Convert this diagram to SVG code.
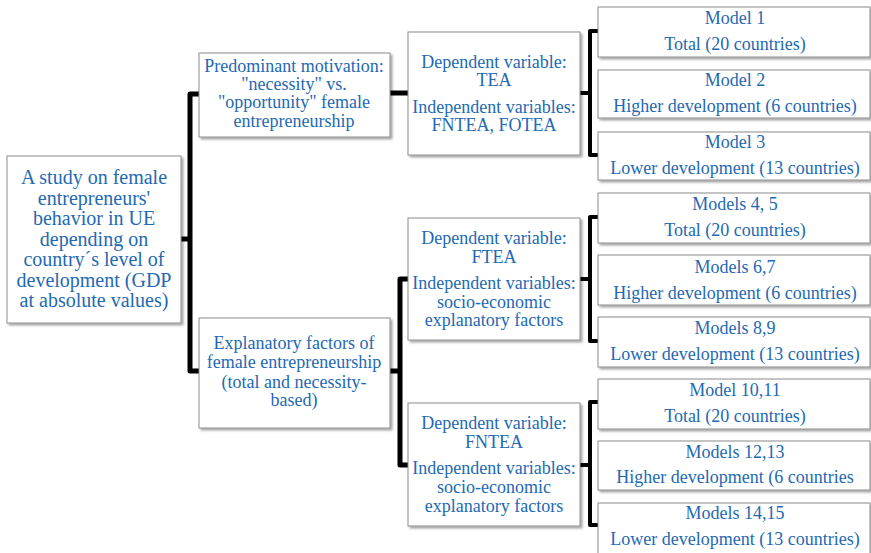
<svg xmlns="http://www.w3.org/2000/svg" width="871" height="553" viewBox="0 0 871 553">
<style>
.box{fill:#fff;stroke:#8c8c8c;stroke-width:1;filter:url(#sh)}
.t{font-family:"Liberation Serif","Times New Roman",serif;font-size:18px;fill:#2369b3;text-anchor:middle}
.big{font-size:20px}
.c{fill:none;stroke:#000;stroke-linejoin:round;stroke-linecap:butt}
.w5{stroke-width:5}
.w4{stroke-width:4}
</style>
<defs>
<filter id="sh" x="-5%" y="-5%" width="115%" height="120%">
<feDropShadow dx="2" dy="2" stdDeviation="1.2" flood-color="#000" flood-opacity="0.35"/>
</filter>
</defs>
<rect width="871" height="553" fill="#fff"/>
<g id="connectors">
<path class="c w5" d="M181,239 H190"/>
<path class="c w5" d="M199,94 H190 V371 H199"/>
<path class="c w5" d="M390,93 H408"/>
<path class="c w4" d="M580,93 H590"/>
<path class="c w4" d="M598,31 H590 V155 H598"/>
<path class="c w5" d="M390,371 H400"/>
<path class="c w5" d="M408,279 H400 V465 H408"/>
<path class="c w4" d="M580,279 H590"/>
<path class="c w4" d="M598,217 H590 V341 H598"/>
<path class="c w4" d="M580,465 H590"/>
<path class="c w4" d="M598,402 H590 V525 H598"/>
</g>
<g id="root">
<rect class="box" x="7" y="156" width="174" height="167"/>
<text class="t big" x="94" y="184">A study on female</text>
<text class="t big" x="94" y="205">entrepreneurs'</text>
<text class="t big" x="94" y="225">behavior in UE</text>
<text class="t big" x="94" y="246">depending on</text>
<text class="t big" x="94" y="266">country´s level of</text>
<text class="t big" x="94" y="287">development (GDP</text>
<text class="t big" x="94" y="307">at absolute values)</text>
</g>
<g id="motivation">
<rect class="box" x="199" y="53" width="191" height="84"/>
<text class="t" x="294" y="72">Predominant motivation:</text>
<text class="t" x="294" y="90">"necessity" vs.</text>
<text class="t" x="294" y="108">"opportunity" female</text>
<text class="t" x="294" y="127">entrepreneurship</text>
</g>
<g id="explanatory">
<rect class="box" x="199" y="318" width="191" height="110"/>
<text class="t" x="294" y="349">Explanatory factors of</text>
<text class="t" x="294" y="368">female entrepreneurship</text>
<text class="t" x="294" y="388">(total and necessity-</text>
<text class="t" x="294" y="406">based)</text>
</g>
<g id="tea">
<rect class="box" x="408" y="32" width="172" height="123"/>
<text class="t" x="494" y="68">Dependent variable:</text>
<text class="t" x="494" y="86">TEA</text>
<text class="t" x="494" y="113">Independent variables:</text>
<text class="t" x="494" y="131">FNTEA, FOTEA</text>
</g>
<g id="ftea">
<rect class="box" x="408" y="218" width="172" height="122"/>
<text class="t" x="494" y="244">Dependent variable:</text>
<text class="t" x="494" y="263">FTEA</text>
<text class="t" x="494" y="289">Independent variables:</text>
<text class="t" x="494" y="308">socio-economic</text>
<text class="t" x="494" y="326">explanatory factors</text>
</g>
<g id="fntea">
<rect class="box" x="408" y="403" width="172" height="123"/>
<text class="t" x="494" y="429">Dependent variable:</text>
<text class="t" x="494" y="448">FNTEA</text>
<text class="t" x="494" y="474">Independent variables:</text>
<text class="t" x="494" y="493">socio-economic</text>
<text class="t" x="494" y="512">explanatory factors</text>
</g>
<g id="model1">
<rect class="box" x="598" y="7" width="272" height="50"/>
<text class="t" x="735" y="24">Model 1</text>
<text class="t" x="735" y="50">Total (20 countries)</text>
</g>
<g id="model2">
<rect class="box" x="598" y="70" width="272" height="48"/>
<text class="t" x="735" y="86">Model 2</text>
<text class="t" x="735" y="112">Higher development (6 countries)</text>
</g>
<g id="model3">
<rect class="box" x="598" y="132" width="272" height="48"/>
<text class="t" x="735" y="148">Model 3</text>
<text class="t" x="735" y="174">Lower development (13 countries)</text>
</g>
<g id="model45">
<rect class="box" x="598" y="193" width="272" height="50"/>
<text class="t" x="735" y="210">Models 4, 5</text>
<text class="t" x="735" y="236">Total (20 countries)</text>
</g>
<g id="model67">
<rect class="box" x="598" y="255" width="272" height="50"/>
<text class="t" x="735" y="273">Models 6,7</text>
<text class="t" x="735" y="299">Higher development (6 countries)</text>
</g>
<g id="model89">
<rect class="box" x="598" y="317" width="272" height="50"/>
<text class="t" x="735" y="334">Models 8,9</text>
<text class="t" x="735" y="360">Lower development (13 countries)</text>
</g>
<g id="model1011">
<rect class="box" x="598" y="379" width="272" height="50"/>
<text class="t" x="735" y="396">Model 10,11</text>
<text class="t" x="735" y="422">Total (20 countries)</text>
</g>
<g id="model1213">
<rect class="box" x="598" y="441" width="272" height="49"/>
<text class="t" x="735" y="458">Models 12,13</text>
<text class="t" x="735" y="483">Higher development (6 countries</text>
</g>
<g id="model1415">
<rect class="box" x="598" y="503" width="272" height="52"/>
<text class="t" x="735" y="519">Models 14,15</text>
<text class="t" x="735" y="545">Lower development (13 countries)</text>
</g>
</svg>
